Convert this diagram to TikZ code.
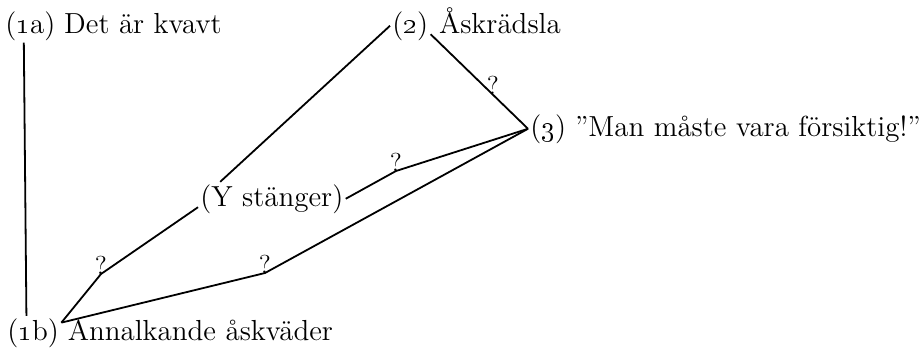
\documentclass[tikz,border=0pt]{standalone}
\usepackage{tikz}
\usetikzlibrary{positioning,calc}
\tikzset{
  lbl/.style={font=\fontsize{14.5}{17}\selectfont, inner sep=1pt},
  qmark/.style={font=\fontsize{13}{15}\selectfont, inner sep=0pt, anchor=base},
  link/.style={line width=0.9pt, line join=round},
}

\begin{document}
\begin{tikzpicture}[x=0.5pt,y=-0.5pt]
  \useasboundingbox (0,0) rectangle (921,355);

  % statements
  \node[lbl, anchor=base west] (n1a) at (3,33) {(\oldstylenums{1}a)};
  \node[lbl, base right=2pt of n1a] (t1a) {Det är kvavt};
  \node[lbl, anchor=base west] (n1b) at (5,340) {(\oldstylenums{1}b)};
  \node[lbl, base right=2pt of n1b] (t1b) {Annalkande åskväder};
  \node[lbl, anchor=base west] (n2) at (390,33) {(\oldstylenums{2})};
  \node[lbl, base right=3pt of n2] (t2) {Åskrädsla};
  \node[lbl, anchor=base west] (n3) at (528,136) {(\oldstylenums{3})};
  \node[lbl, base right=2pt of n3] (t3) {”Man måste vara försiktig!”};
  \node[lbl, anchor=base west] (nY) at (198,206) {(Y stänger)};

  % question marks
  \node[qmark] (qa) at (101,274) {?};
  \node[qmark] (qb) at (265,273) {?};
  \node[qmark] (qc) at (396,171) {?};

  % links
  \draw[link] ($(n1a.south west)!0.38!(n1a.south east)$) -- ($(n1b.north west)!0.38!(n1b.north east)$);
  \draw[link] ($(n1b.north east)!0.4!(n1b.east)$) -- (qa.base) -- ($(nY.west)!0.5!(nY.south west)$);
  \draw[link] ($(n1b.north east)!0.4!(n1b.east)$) -- (qb.base) -- (n3.west);
  \draw[link] ($(nY.north west)!0.15!(nY.north east)$) -- (n2.west);
  \draw[link] (nY.east) -- (qc.base) -- (n3.west);
  \draw[link] ($(n2.east)!0.5!(n2.south east)$) -- node[qmark, pos=0.64] (qd) {?} (n3.west);
\end{tikzpicture}
\end{document}
